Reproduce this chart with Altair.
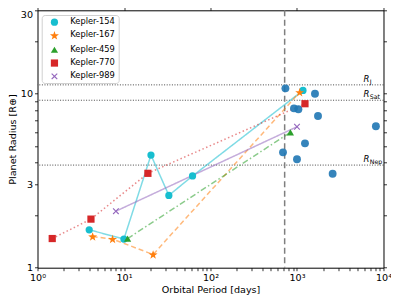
import altair as alt
import pandas as pd
import numpy as np

# ---- data ----
k154_p = [3.96, 9.97, 20.5, 33.0, 62.0, 1173]
k154_r = [1.65, 1.46, 4.43, 2.60, 3.36, 10.4]
k167_p = [4.34, 7.38, 21.7, 1074]
k167_r = [1.51, 1.46, 1.19, 10.15]
k459_p = [11.0, 839]
k459_r = [1.47, 5.98]
k770_p = [1.48, 4.15, 18.9, 1237]
k770_r = [1.47, 1.90, 3.48, 8.73]
k989_p = [8.06, 1000]
k989_r = [2.11, 6.44]
other_p = [735, 1614, 923, 1038, 1749, 8170, 1237, 689, 1000, 2583]
other_r = [10.7, 9.96, 8.21, 8.11, 7.42, 6.48, 5.17, 4.59, 4.19, 3.46]

ref_names = ["J", "Sat", "Nep"]
ref_r = [11.2, 9.14, 3.88]
vline_p = [720]

x_ticks = [m * 10 ** e for e in range(4) for m in range(1, 10)] + [10000]
y_ticks = [1, 2, 3, 4, 5, 6, 7, 8, 9, 10, 20, 30]

systems = ["Kepler-154", "Kepler-167", "Kepler-459", "Kepler-770", "Kepler-989"]
sys_p = [k154_p, k167_p, k459_p, k770_p, k989_p]
sys_r = [k154_r, k167_r, k459_r, k770_r, k989_r]
colors = ["#17becf", "#ff7f0e", "#2ca02c", "#d62728", "#9467bd"]
dashes = [[1, 0], [5, 3], [6, 2.5, 1.5, 2.5], [1.5, 2.5], [1, 0]]

# ---- marker shapes ----
def star_path(ro=1.3, ri=0.52):
    pts = []
    for i in range(10):
        a = -np.pi / 2 + i * np.pi / 5
        r = ro if i % 2 == 0 else ri
        pts.append((r * np.cos(a), r * np.sin(a) + 0.1))
    return "M" + "L".join(f"{x:.3f},{y:.3f}" for x, y in pts) + "Z"

def x_path(t=0.14, k=1.1):
    base = [(t, 1), (t, t), (1, t), (1, -t), (t, -t), (t, -1), (-t, -1),
            (-t, -t), (-1, -t), (-1, t), (-t, t), (-t, 1)]
    s = k / np.sqrt(2)
    pts = [((x - y) * s, (x + y) * s) for x, y in base]
    return "M" + "L".join(f"{x:.3f},{y:.3f}" for x, y in pts) + "Z"

shapes = ["circle", star_path(), "triangle-up", "square", x_path()]

rows = []
for name, ps, rs in zip(systems, sys_p, sys_r):
    for p, r in zip(ps, rs):
        rows.append({"system": name, "period": p, "radius": r})
df = pd.DataFrame(rows)
df_other = pd.DataFrame({"period": other_p, "radius": other_r})
df_ref = pd.DataFrame({"sub": ref_names, "radius": ref_r})
df_v = pd.DataFrame({"period": vline_p})

W, H = 346, 257.4
FONT = "DejaVu Sans"

xscale = alt.Scale(type="log", domain=[1, 10000], nice=False)
yscale = alt.Scale(type="log", domain=[1, 30], nice=False)

sup = {1: "10⁰", 10: "10¹", 100: "10²", 1000: "10³", 10000: "10⁴"}
x_label_expr = " : ".join(f"datum.value == {k} ? '{v}'" for k, v in sup.items()) + " : ''"
y_label_expr = "indexof([1, 3, 10, 30], datum.value) >= 0 ? datum.value : ''"

x_axis_main = alt.Axis(values=x_ticks, labelExpr=x_label_expr, title="Orbital Period [days]",
                       grid=False, domain=False, tickSize=3, tickColor="black",
                       labelPadding=1.5, titlePadding=3, labelOverlap=False, labelFlush=False,
                       labelFontSize=9.6, titleFontSize=9.6, titleFontWeight="normal",
                       labelColor="black", titleColor="black", labelFont=FONT, titleFont=FONT)
y_axis_main = alt.Axis(values=y_ticks, labelExpr=y_label_expr, title="Planet Radius [R⊕]",
                       grid=False, domain=False, tickSize=3, tickColor="black",
                       labelPadding=2, titlePadding=3, labelOverlap=False, labelFlush=False,
                       labelOffset={"condition": {"test": "datum.value == 30", "value": 4}, "value": 0},
                       labelFontSize=9.6, titleFontSize=9.6, titleFontWeight="normal",
                       labelColor="black", titleColor="black", labelFont=FONT, titleFont=FONT)
x_axis_top = alt.Axis(orient="top", values=[1, 10, 100, 1000, 10000], labels=False, title=None,
                      grid=False, domain=False, tickSize=3, tickColor="black")
y_axis_right = alt.Axis(orient="right", values=y_ticks, labels=False, title=None,
                        grid=False, domain=False, tickSize=3, tickColor="black")

hlines = alt.Chart(df_ref).mark_rule(color="#333333", strokeWidth=0.9, strokeDash=[1, 1.6]).encode(
    y=alt.Y("radius:Q", scale=yscale, axis=y_axis_right)
)
vline = alt.Chart(df_v).mark_rule(color="#7f7f7f", strokeWidth=1.5, strokeDash=[6, 3.5]).encode(
    x=alt.X("period:Q", scale=xscale, axis=x_axis_top)
)

line_layers = []
for name, c, d in zip(systems, colors, dashes):
    line_layers.append(
        alt.Chart(df[df.system == name]).mark_line(color=c, strokeWidth=1.5, opacity=0.55, strokeDash=d).encode(
            x=alt.X("period:Q", scale=xscale, axis=None),
            y=alt.Y("radius:Q", scale=yscale, axis=None),
            order="period:Q",
        )
    )

others = alt.Chart(df_other).mark_point(filled=True, color="#1f77b4", opacity=0.9, size=62, shape="circle").encode(
    x=alt.X("period:Q", scale=xscale, axis=None),
    y=alt.Y("radius:Q", scale=yscale, axis=None),
)

pts = alt.Chart(df).mark_point(filled=True, opacity=1, size=52, strokeWidth=0).encode(
    x=alt.X("period:Q", scale=xscale, axis=x_axis_main),
    y=alt.Y("radius:Q", scale=yscale, axis=y_axis_main),
    color=alt.Color("system:N", scale=alt.Scale(domain=systems, range=colors), title=None),
    shape=alt.Shape("system:N", scale=alt.Scale(domain=systems, range=shapes), title=None),
)

txt_r = alt.Chart(df_ref).mark_text(text="R", fontStyle="italic", fontSize=8.5, font=FONT, align="left",
                                    baseline="alphabetic", dx=-20, dy=-3, color="black").encode(
    x=alt.value(W), y=alt.Y("radius:Q", scale=yscale, axis=None)
)
txt_sub = alt.Chart(df_ref).mark_text(fontSize=6.3, font=FONT, align="left", baseline="alphabetic",
                                      dx=-13.8, dy=-1.2, color="black").encode(
    x=alt.value(W), y=alt.Y("radius:Q", scale=yscale, axis=None), text="sub:N"
)

chart = alt.layer(hlines, vline, *line_layers, others, pts, txt_r, txt_sub).resolve_axis(
    x="independent", y="independent"
).properties(
    width=W, height=H,
    autosize=alt.AutoSizeParams(type="none"),
    padding={"left": 29.5, "top": 2.3, "right": 7.3, "bottom": 28},
).configure_view(
    stroke="black", strokeWidth=1
).configure_legend(
    orient="none", legendX=4.2, legendY=4.7, padding=3, fillColor="white",
    strokeColor="#d0d0d0", cornerRadius=3, labelFontSize=8.3, labelFont=FONT, labelColor="black",
    symbolSize=52, rowPadding=4.3, symbolOffset=5.6, labelOffset=11.7, symbolStrokeWidth=0,
).configure_axis(tickWidth=0.8)

chart.save("out.html", embed_options={"renderer": "svg", "actions": False})
